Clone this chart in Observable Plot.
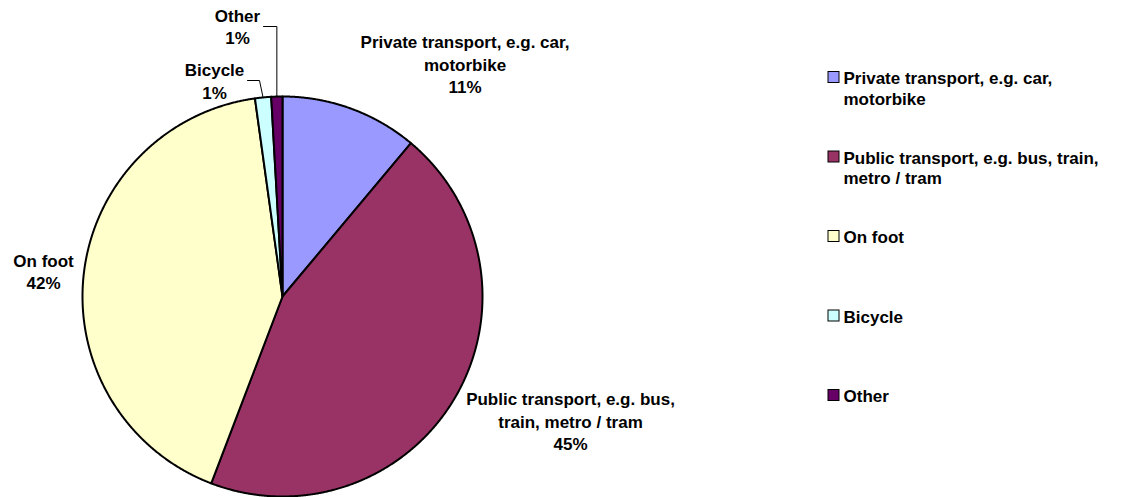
<!DOCTYPE html>
<html>
<head>
<meta charset="utf-8">
<script src="https://cdn.jsdelivr.net/npm/d3@7"></script>
<script src="https://cdn.jsdelivr.net/npm/@observablehq/plot@0.6"></script>
<style>
  html, body { margin: 0; padding: 0; background: #fff; }
  #chart svg { display: block; }
</style>
</head>
<body>
<div id="chart"></div>
<script>
// ---- data ----
const categories = [
  "Private transport, e.g. car, motorbike",
  "Public transport, e.g. bus, train, metro / tram",
  "On foot",
  "Bicycle",
  "Other"
];
const values = [11.1, 44.7, 42.0, 1.3, 0.9];
const percentLabels = ["11%", "45%", "42%", "1%", "1%"];
const sliceLabelText = [
  "Private transport, e.g. car,\nmotorbike",
  "Public transport, e.g. bus,\ntrain, metro / tram",
  "On foot",
  "Bicycle",
  "Other"
];
const legendText = [
  "Private transport, e.g. car,\nmotorbike",
  "Public transport, e.g. bus, train,\nmetro / tram",
  "On foot",
  "Bicycle",
  "Other"
];
const colors = ["#9999FF", "#993366", "#FFFFCC", "#CCFFFF", "#660066"];

// ---- layout ----
const W = 1123, H = 497;
const CX = 282, CY = 296, R = 200;
const FONT = "'Liberation Sans', Arial, sans-serif";
const FS = 17;
const labelCenters = [[464.5, 63], [570, 420], [43, 270.5], [214, 80], [237, 25.5]];
const leaderStarts = {3: [247, 80], 4: [263, 26]};
const leaderElbowX = {3: 259, 4: null};
const legendX = 828, legendSquare = 11, legendTextX = 843;
const legendFirstY = 77, legendStep = 79.5, legendLineH = 20.5;

// ---- geometry from data ----
const rows = categories.map((c, i) => ({category: c, value: values[i], i}));
const arcs = d3.pie().sort(null).value(d => d.value)(rows);
const pt = (a, r) => [CX + r * Math.sin(a), CY - r * Math.cos(a)];

const slicePts = [];
for (const a of arcs) {
  slicePts.push({category: a.data.category, x: CX, y: CY});
  const n = Math.max(2, Math.ceil((a.endAngle - a.startAngle) / (Math.PI / 720)));
  for (let k = 0; k <= n; k++) {
    const ang = a.startAngle + (a.endAngle - a.startAngle) * k / n;
    const [x, y] = pt(ang, R);
    slicePts.push({category: a.data.category, x, y});
  }
}

const labels = arcs.map((a, i) => ({
  text: sliceLabelText[i] + "\n" + percentLabels[i],
  x: labelCenters[i][0],
  y: labelCenters[i][1]
}));

const leaderPts = [];
for (const key of Object.keys(leaderStarts)) {
  const i = +key;
  const a = arcs[i];
  const mid = (a.startAngle + a.endAngle) / 2;
  const [ex, ey] = pt(mid, R);
  const [sx, sy] = leaderStarts[i];
  const elx = leaderElbowX[i] == null ? ex : leaderElbowX[i];
  leaderPts.push({g: i, x: sx, y: sy}, {g: i, x: elx, y: sy}, {g: i, x: ex, y: ey});
}

const legendRows = categories.map((c, i) => {
  const nLines = legendText[i].split("\n").length;
  const y0 = legendFirstY + i * legendStep;
  return {category: c, text: legendText[i], y0, ym: y0 + (nLines - 1) * legendLineH / 2};
});

const chart = Plot.plot({
  width: W,
  height: H,
  margin: 0,
  x: {type: "identity", axis: null},
  y: {type: "identity", axis: null},
  color: {domain: categories, range: colors},
  style: {fontFamily: FONT, background: "#fff"},
  marks: [
    Plot.line(slicePts, {x: "x", y: "y", z: "category", fill: "category", stroke: "#000", strokeWidth: 2, strokeLinejoin: "round", curve: "linear-closed"}),
    Plot.line(leaderPts, {x: "x", y: "y", z: "g", stroke: "#000", strokeWidth: 1}),
    Plot.text(labels, {x: "x", y: "y", text: "text", fontSize: FS, fontWeight: "bold", fill: "#000", textAnchor: "middle", lineHeight: 1.32}),
    Plot.rect(legendRows, {x1: () => legendX, x2: () => legendX + legendSquare, y1: d => d.y0 - legendSquare / 2, y2: d => d.y0 + legendSquare / 2, fill: "category", stroke: "#000", strokeWidth: 1}),
    Plot.text(legendRows, {x: () => legendTextX, y: "ym", text: "text", fontSize: FS, fontWeight: "bold", fill: "#000", textAnchor: "start", lineHeight: legendLineH / FS})
  ]
});
document.getElementById("chart").appendChild(chart);
</script>
</body>
</html>
